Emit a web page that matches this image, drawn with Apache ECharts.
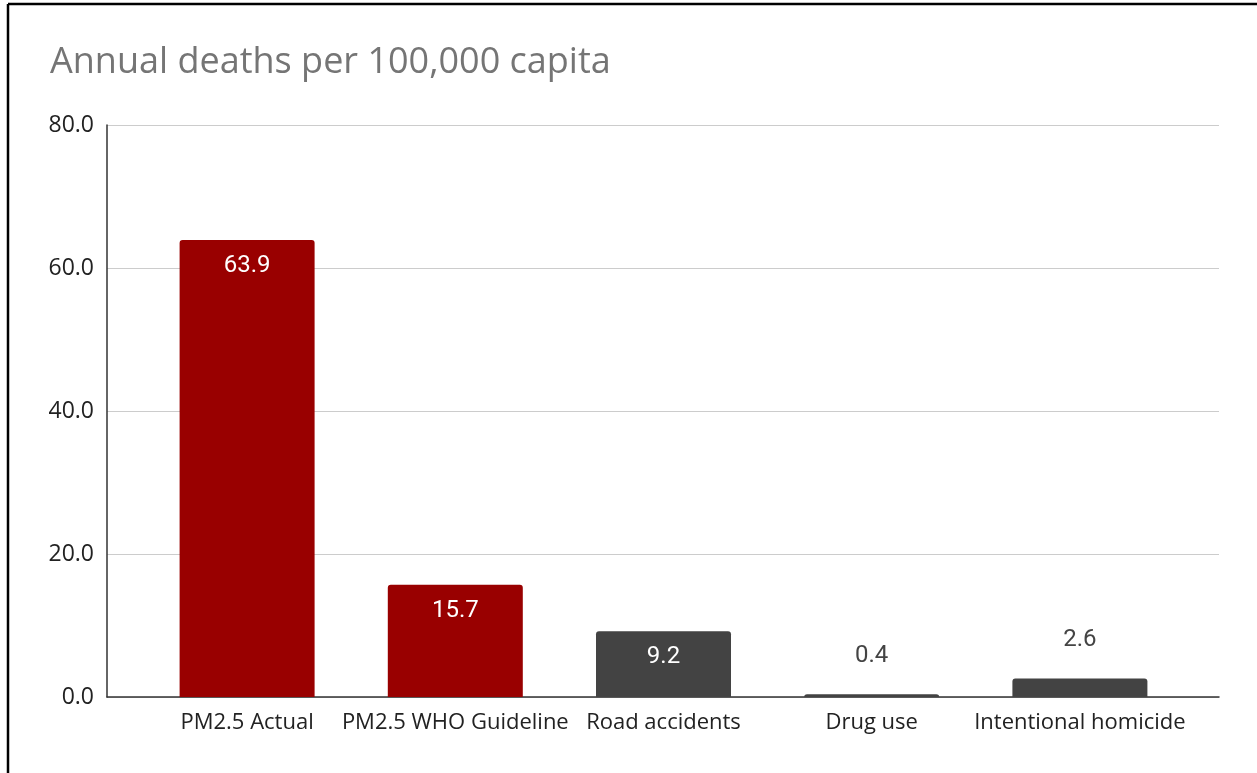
<!DOCTYPE html>
<html><head><meta charset="utf-8">
<script src="https://cdn.jsdelivr.net/npm/echarts@6/dist/echarts.min.js"></script>
<style>html,body{margin:0;padding:0;background:#fff}#c{width:1257px;height:773px}</style>
</head><body><div id="c"></div>
<script>
const titleText = 'Annual deaths per 100,000 capita';
const categories = ['PM2.5 Actual', 'PM2.5 WHO Guideline', 'Road accidents', 'Drug use', 'Intentional homicide'];
const values = [63.9, 15.7, 9.2, 0.4, 2.6];
const barColors = ['#990000', '#990000', '#434343', '#434343', '#434343'];
const yMin = 0, yMax = 80, yStep = 20;

const chart = echarts.init(document.getElementById('c'), null, {renderer: 'canvas'});
const data = values.map((v, i) => {
  const inside = v > 5;
  return {
    value: v,
    itemStyle: {color: barColors[i], borderRadius: [3, 3, 0, 0]},
    label: inside
      ? {position: 'insideTop', distance: 14, color: '#ffffff'}
      : {position: 'top', distance: 26, color: '#444444'}
  };
});
chart.setOption({
  animation: false,
  backgroundColor: '#ffffff',
  title: {
    text: titleText, left: 45, top: 40,
    textStyle: {fontFamily: 'Open Sans', fontSize: 36, fontWeight: 'normal', color: '#757575'}
  },
  graphic: [
    {type: 'line', shape: {x1: 8, y1: 4, x2: 1257, y2: 4}, style: {stroke: '#000', lineWidth: 2.5}},
    {type: 'line', shape: {x1: 8, y1: 4, x2: 8, y2: 773}, style: {stroke: '#000', lineWidth: 2.5}}
  ],
  grid: [
    {left: 107, right: 38, top: 125, bottom: 76},
    {left: 143, right: 73, top: 125, bottom: 76}
  ],
  xAxis: [
    {type: 'value', gridIndex: 0, min: 0, max: 1,
     axisLine: {show: true, lineStyle: {color: '#333', width: 1.5}},
     axisTick: {show: false}, axisLabel: {show: false}, splitLine: {show: false}},
    {type: 'category', gridIndex: 1, data: categories,
     axisLine: {show: false}, axisTick: {show: false},
     axisLabel: {interval: 0, margin: 15, fontSize: 22, fontFamily: 'Open Sans', color: '#222'}}
  ],
  yAxis: [
    {type: 'value', gridIndex: 0, min: yMin, max: yMax, interval: yStep,
     axisLine: {show: true, lineStyle: {color: '#333', width: 1.5}},
     axisTick: {show: false},
     axisLabel: {margin: 13, fontSize: 23, fontFamily: 'Open Sans', color: '#222',
                 formatter: v => v.toFixed(1)},
     splitLine: {show: true, lineStyle: {color: '#cccccc', width: 1}}},
    {type: 'value', gridIndex: 1, min: yMin, max: yMax, show: false}
  ],
  series: [{
    type: 'bar', xAxisIndex: 1, yAxisIndex: 1,
    barWidth: 135,
    data: data,
    label: {show: true, fontFamily: 'Roboto', fontSize: 24,
            formatter: p => p.value.toFixed(1)}
  }]
});
</script></body></html>
